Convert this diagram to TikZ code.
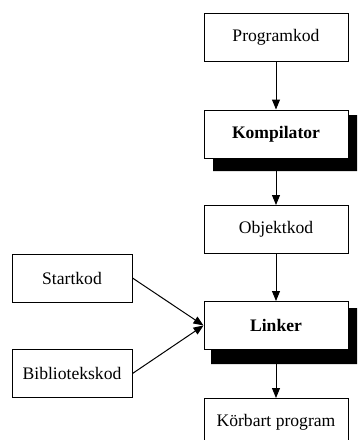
\documentclass[tikz,border=0pt]{standalone}
\usepackage{fontspec}
\setmainfont{Liberation Serif}
\usetikzlibrary{arrows.meta}
\begin{document}
\begin{tikzpicture}[x=1pt,y=-1pt,
  box/.style={draw=black,line width=1pt,fill=white,minimum width=144pt,minimum height=48pt,inner sep=0pt,font=\fontsize{17.6}{20}\selectfont},
  sbox/.style={box,minimum width=120pt},
  conn/.style={line width=1pt,-{Triangle[length=10pt,width=8pt]}},
  shadow/.style={fill=black}]
\useasboundingbox (0,0) rectangle (357,440);
\clip (0,0) rectangle (357,440);
% shadows
\fill[shadow] (348,115) -- (360,115) -- (360,171) -- (213,171) -- (213,157) -- (348,157) -- cycle;
\fill[shadow] (348,308) -- (360,308) -- (360,364) -- (211,364) -- (211,349) -- (348,349) -- cycle;
\node[box] (prog) at (276,37.5) {Programkod};
\node[box] (komp) at (276,134) {\textbf{Kompilator}};
\node[box] (obj) at (276,229.5) {Objektkod};
\node[box] (link) at (276,325.5) {\textbf{Linker}};
\node[box,minimum height=60pt,anchor=north] (kor) at (276,398) {};
\node[font=\fontsize{17.6}{20}\selectfont] (kortext) at (276,422) {Körbart program};
\node[sbox] (start) at (72,278) {Startkod};
\node[sbox] (bib) at (72,373.5) {Bibliotekskod};
\draw[conn] (prog) -- (komp);
\draw[conn] (komp) -- (obj);
\draw[conn] (obj) -- (link);
\draw[conn] (link) -- (kor);
\draw[conn] (start.east) -- (link.west);
\draw[conn] (bib.east) -- (link.west);
\end{tikzpicture}
\end{document}
